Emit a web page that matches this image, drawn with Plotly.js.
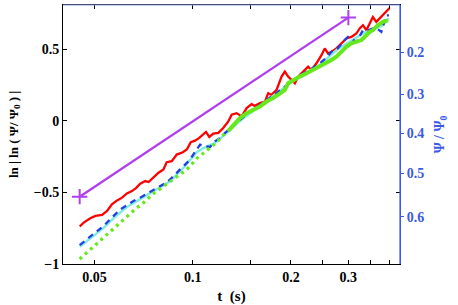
<!DOCTYPE html>
<html>
<head>
<meta charset="utf-8">
<script src="https://cdn.plot.ly/plotly-3.0.1.min.js"></script>
<style>html,body{margin:0;padding:0;background:#fff;}#chart{width:458px;height:305px;}</style>
</head>
<body>
<div id="chart"></div>
<script>
// time (s)
const tRed = [0.0450,0.0463,0.0485,0.0503,0.0527,0.0546,0.0565,0.0586,0.0607,0.0628,0.0651,0.0671,0.0690,0.0715,0.0732,0.0755,0.0785,0.0813,0.0832,0.0862,0.0893,0.0932,0.0959,0.0986,0.1016,0.1047,0.1098,0.1124,0.1156,0.1198,0.1240,0.1285,0.1316,0.1363,0.1412,0.1463,0.1515,0.1551,0.1607,0.1664,0.1703,0.1744,0.1807,0.1872,0.1916,0.1961,0.2009,0.2056,0.2104,0.2179,0.2258,0.2312,0.2395,0.2481,0.2540,0.2599,0.2662,0.2757,0.2856,0.2959,0.3065,0.3175,0.3249,0.3326,0.3406,0.3486,0.3568,0.3655,0.3741,0.3829,0.3922,0.4014];
const lnRed = [-0.738,-0.711,-0.681,-0.664,-0.657,-0.630,-0.583,-0.556,-0.537,-0.507,-0.491,-0.468,-0.440,-0.421,-0.428,-0.398,-0.363,-0.340,-0.289,-0.282,-0.236,-0.220,-0.201,-0.150,-0.139,-0.120,-0.078,-0.113,-0.090,-0.085,-0.051,-0.005,0.042,0.053,0.030,0.088,0.116,0.104,0.123,0.134,0.192,0.181,0.215,0.308,0.343,0.308,0.285,0.262,0.308,0.343,0.377,0.354,0.401,0.458,0.505,0.470,0.481,0.505,0.540,0.574,0.585,0.609,0.644,0.667,0.632,0.678,0.724,0.690,0.713,0.736,0.759,0.787];

const tBlue = [0.0450,0.0474,0.0497,0.0533,0.0572,0.0600,0.0628,0.0658,0.0698,0.0740,0.0776,0.0813,0.0852,0.0893,0.0936,0.0981,0.1028,0.1053,0.1090,0.1130,0.1170,0.1212,0.1256,0.1300,0.1395,0.1496,0.1607,0.1721,0.1849,0.1984,0.2130,0.2285,0.2452,0.2570,0.2692,0.2783,0.2889,0.2992,0.3071,0.3175,0.3326,0.3438,0.3568,0.3687,0.3786,0.3922,0.3994];
const lnBlue = [-0.868,-0.826,-0.792,-0.734,-0.664,-0.618,-0.590,-0.560,-0.530,-0.498,-0.468,-0.444,-0.410,-0.363,-0.317,-0.271,-0.201,-0.167,-0.178,-0.183,-0.144,-0.120,-0.085,-0.055,0.005,0.065,0.110,0.160,0.215,0.265,0.315,0.355,0.400,0.440,0.493,0.505,0.551,0.585,0.570,0.551,0.632,0.630,0.644,0.640,0.620,0.736,0.736];

const tCyan = [0.0450,0.0497,0.0533,0.0572,0.0628,0.0698,0.0776,0.0852,0.0936,0.1028,0.1090,0.1170,0.1256,0.1395,0.1607,0.1849,0.2130,0.2452,0.2783,0.3071,0.3326,0.3568,0.3786,0.3994];
const lnCyan = [-0.880,-0.805,-0.748,-0.680,-0.602,-0.540,-0.480,-0.422,-0.330,-0.220,-0.185,-0.155,-0.095,0.000,0.105,0.205,0.312,0.390,0.500,0.560,0.610,0.640,0.660,0.715];

const tGreen = [0.0450,0.0474,0.0497,0.0520,0.0539,0.0562,0.0586,0.0607,0.0628,0.0651,0.0674,0.0698,0.0720,0.0740,0.0763,0.0785,0.0810,0.0832,0.0862,0.0893,0.0919,0.0947,0.0981,0.1004,0.1033,0.1065,0.1090,0.1130,0.1162,0.1198,0.1240,0.1285,
  0.1331,0.1395,0.1463,0.1532,0.1607,0.1684,0.1764,0.1872,0.1916,0.1961,0.2031,0.2130,0.2233,0.2338,0.2452,0.2570,0.2662,0.2757,0.2856,0.2959,0.3065,0.3175,0.3289,0.3406,0.3486,0.3568,0.3696,0.3829,0.3966];
const lnGreen = [-0.965,-0.919,-0.877,-0.838,-0.803,-0.764,-0.729,-0.699,-0.664,-0.636,-0.607,-0.583,-0.553,-0.530,-0.502,-0.484,-0.463,-0.444,-0.421,-0.391,-0.370,-0.352,-0.317,-0.287,-0.259,-0.236,-0.218,-0.190,-0.167,-0.137,-0.100,-0.070,
  -0.030,0.019,0.053,0.076,0.099,0.134,0.158,0.199,0.215,0.262,0.285,0.308,0.331,0.354,0.377,0.401,0.424,0.447,0.481,0.516,0.540,0.551,0.563,0.597,0.620,0.632,0.667,0.690,0.701];

const tFit = [0.045, 0.3];
const lnFit = [-0.53, 0.72];

const xTickVals = [0.05,0.1,0.2,0.3];
const xTickText = ['0.05','0.1','0.2','0.3'];
const xMinorVals = [0.15,0.25,0.35,0.4];
const yTickVals = [-1,-0.5,0,0.5];
const yTickText = ['\u22121','\u22120.5','0','0.5'];
const psiTicks = [0.2,0.3,0.4,0.5,0.6];
const psiTickText = ['0.2','0.3','0.4','0.5','0.6'];

const split = 31;
const serif = 'Liberation Serif';
const blueAx = '#3a5ae6';
const bold = s => '<b>' + s + '</b>';

const traces = [
  {x:tRed, y:lnRed, mode:'lines', line:{color:'#ff0000', width:2.3}, hoverinfo:'skip'},
  {x:tCyan, y:lnCyan, mode:'lines', line:{color:'#80ece0', width:2.5}, hoverinfo:'skip'},
  {x:tBlue, y:lnBlue, mode:'lines', line:{color:'#1f3fe0', width:2.3, dash:'6px,5px'}, hoverinfo:'skip'},
  {x:tGreen.slice(0, split+1), y:lnGreen.slice(0, split+1), mode:'lines', line:{color:'#66e81a', width:3.2, dash:'3px,4px'}, hoverinfo:'skip'},
  {x:tGreen.slice(split), y:lnGreen.slice(split), mode:'lines', line:{color:'#66e81a', width:4}, hoverinfo:'skip'},
  {x:tFit, y:lnFit, mode:'lines+markers', line:{color:'#b040ee', width:2.3},
   marker:{symbol:'cross-thin', size:11, line:{color:'#b040ee', width:2}}, hoverinfo:'skip'},
  {x:[0.05], y:[0], yaxis:'y2', mode:'markers', marker:{opacity:0}, hoverinfo:'skip'}
];

const yr = [-1, 0.808];
const layout = {
  width:458, height:305,
  margin:{l:63, r:58, t:5, b:41},
  paper_bgcolor:'#fff', plot_bgcolor:'#fff',
  showlegend:false,
  font:{family:serif, size:13, color:'#000'},
  xaxis:{type:'log', range:[Math.log10(0.04), Math.log10(0.432)],
    tickvals:xTickVals, ticktext:xTickText.map(bold), ticks:'inside', ticklen:4, tickcolor:'#000',
    minor:{tickvals:xMinorVals, ticks:'inside', ticklen:4, tickcolor:'#000', showgrid:false},
    showline:true, linecolor:'#000', linewidth:1, mirror:'ticks', showgrid:false, zeroline:false,
    tickfont:{family:serif, size:14, color:'#000'},
    title:{text:bold('t  (s)'), font:{family:serif, size:15, color:'#000'}, standoff:8}},
  yaxis:{range:yr, tickvals:yTickVals, ticktext:yTickText.map(bold), ticks:'inside', ticklen:4, tickcolor:'#000',
    showline:true, linecolor:'#000', linewidth:1, mirror:'ticks', showgrid:false, zeroline:false,
    tickfont:{family:serif, size:14, color:'#000'},
    title:{text:bold('ln | ln ( \u03a8/ \u03a8<sub>0</sub> ) |'), font:{family:serif, size:13, color:'#000'}, standoff:12}},
  yaxis2:{overlaying:'y', side:'right', range:yr,
    tickvals:psiTicks.map(p => Math.log(Math.abs(Math.log(p)))), ticktext:psiTickText.map(bold),
    ticks:'outside', ticklen:3, tickcolor:blueAx, showline:true, linecolor:blueAx, linewidth:1,
    showgrid:false, zeroline:false,
    tickfont:{family:serif, size:14, color:blueAx},
    title:{text:bold('\u03a8 / \u03a8<sub>0</sub>'), font:{family:serif, size:14, color:blueAx}, standoff:10}},
  shapes:[
    {type:'line', xref:'paper', yref:'paper', x0:0, x1:1, y0:1, y1:1, line:{color:'#8c9ee6', width:1.2}, layer:'above'},
    {type:'line', xref:'paper', yref:'paper', x0:1, x1:1, y0:0, y1:1, line:{color:blueAx, width:1.2}, layer:'above'}
  ]
};

Plotly.newPlot('chart', traces, layout, {staticPlot:true, displayModeBar:false});
</script>
</body>
</html>
